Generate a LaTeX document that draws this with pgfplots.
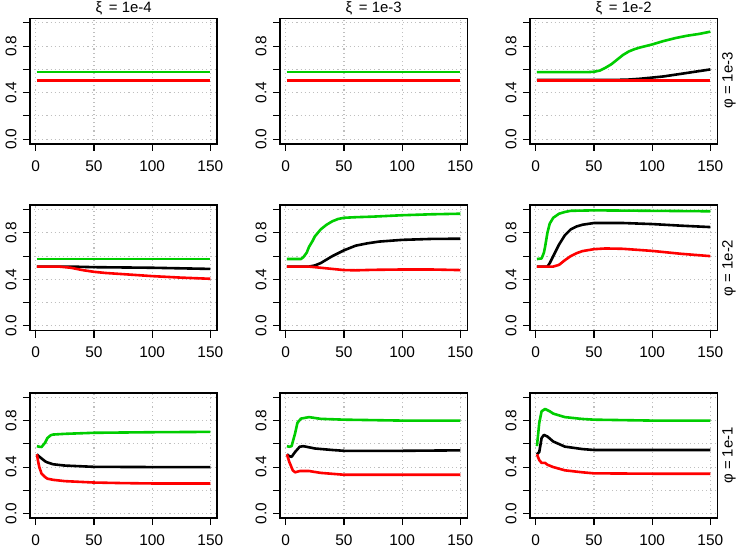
\documentclass[border=0pt]{standalone}
\usepackage{pgfplots}
\pgfplotsset{compat=1.18}
\usepackage{fontspec}
\setmainfont{Liberation Sans}
\definecolor{rgreen}{HTML}{00CD00}
\definecolor{rred}{HTML}{FF0000}
\pgfplotsset{
  panel/.style={
    scale only axis, width=187.3bp, height=125.5bp,
    xmin=-4.96, xmax=155.96, ymin=-0.04, ymax=1.04,
    xtick={0,50,100,150}, ytick={0,0.2,0.4,0.6,0.8,1.0},
    yticklabels={0.0,,0.4,,0.8,},
    tick align=outside, tick pos=left, major tick length=7bp,
    major tick style={line width=1.1bp, black},
    axis line style={line width=1.6bp},
    grid=major, grid style={black!25, line width=1.1bp, dash pattern=on 1.1bp off 3bp},
    ticklabel style={font=\fontsize{15.5}{17}\selectfont},
    /pgf/number format/assume math mode=true,
    yticklabel style={rotate=90, anchor=south},
    xticklabel shift=6bp, yticklabel shift=3bp,
    anchor=north west,
    every axis plot/.append style={line width=2.6bp, no markers, line join=round},
  },
}
\begin{document}
\begin{tikzpicture}[font=\fontsize{15}{17}\selectfont]
\path[use as bounding box] (0,0) rectangle (736bp,-548bp);
% Row 1
\begin{axis}[panel, at={(30bp,-18.3bp)}]
\addplot[black] coordinates {(1,0.51)(150,0.51)};
\addplot[rred] coordinates {(1,0.503)(150,0.503)};
\addplot[rgreen] coordinates {(1,0.577)(150,0.577)};
\end{axis}
\begin{axis}[panel, at={(280bp,-18.3bp)}]
\addplot[black] coordinates {(1,0.51)(150,0.51)};
\addplot[rred] coordinates {(1,0.503)(150,0.503)};
\addplot[rgreen] coordinates {(1,0.577)(150,0.577)};
\end{axis}
\begin{axis}[panel, at={(530bp,-18.3bp)}]
\addplot[black] coordinates {(1,0.51)(70,0.51)(80,0.513)(90,0.52)(100,0.53)(110,0.54)(120,0.555)(130,0.57)(140,0.585)(150,0.60)};
\addplot[rred] coordinates {(1,0.503)(150,0.503)};
\addplot[rgreen] coordinates {(1,0.577)(45,0.577)(50,0.58)(55,0.59)(60,0.615)(65,0.645)(70,0.685)(75,0.725)(80,0.755)(85,0.775)(90,0.79)(100,0.815)(110,0.845)(120,0.87)(130,0.89)(140,0.905)(150,0.925)};
\end{axis}
% Row 2
\begin{axis}[panel, at={(30bp,-205bp)}]
\addplot[black] coordinates {(1,0.51)(30,0.51)(50,0.505)(100,0.50)(150,0.49)};
\addplot[rred] coordinates {(1,0.51)(20,0.51)(30,0.50)(40,0.48)(50,0.465)(60,0.455)(75,0.445)(100,0.428)(125,0.415)(150,0.405)};
\addplot[rgreen] coordinates {(1,0.576)(150,0.576)};
\end{axis}
\begin{axis}[panel, at={(280bp,-205bp)}]
\addplot[black] coordinates {(1,0.51)(20,0.51)(25,0.52)(30,0.54)(35,0.57)(40,0.60)(45,0.625)(50,0.65)(55,0.67)(60,0.69)(70,0.71)(80,0.725)(100,0.74)(125,0.748)(150,0.75)};
\addplot[rred] coordinates {(1,0.51)(20,0.51)(30,0.50)(40,0.49)(50,0.48)(60,0.478)(75,0.482)(100,0.485)(125,0.485)(150,0.48)};
\addplot[rgreen] coordinates {(1,0.575)(13,0.575)(15,0.59)(18,0.63)(20,0.68)(23,0.73)(25,0.77)(30,0.83)(35,0.87)(40,0.90)(45,0.92)(50,0.93)(60,0.935)(75,0.94)(100,0.952)(125,0.96)(150,0.965)};
\end{axis}
\begin{axis}[panel, at={(530bp,-205bp)}]
\addplot[black] coordinates {(1,0.51)(10,0.51)(12,0.54)(15,0.60)(20,0.70)(25,0.78)(30,0.83)(35,0.855)(40,0.87)(50,0.885)(75,0.885)(100,0.876)(125,0.862)(150,0.85)};
\addplot[rred] coordinates {(1,0.51)(15,0.51)(20,0.525)(25,0.565)(30,0.60)(35,0.625)(40,0.643)(50,0.66)(60,0.666)(75,0.663)(100,0.645)(125,0.62)(150,0.60)};
\addplot[rgreen] coordinates {(1,0.575)(5,0.58)(7,0.63)(8,0.68)(10,0.80)(12,0.88)(15,0.93)(20,0.965)(25,0.98)(30,0.99)(50,0.994)(100,0.99)(150,0.986)};
\end{axis}
% Row 3
\begin{axis}[panel, at={(30bp,-392.7bp)}]
\addplot[black] coordinates {(1,0.51)(3,0.49)(5,0.474)(8,0.45)(10,0.44)(15,0.424)(25,0.413)(50,0.402)(100,0.40)(150,0.40)};
\addplot[rred] coordinates {(1,0.51)(2,0.45)(3,0.40)(5,0.343)(8,0.314)(10,0.30)(15,0.29)(25,0.279)(50,0.267)(75,0.262)(100,0.259)(150,0.259)};
\addplot[rgreen] coordinates {(1,0.58)(3,0.575)(5,0.573)(8,0.61)(10,0.65)(13,0.675)(15,0.68)(25,0.686)(50,0.695)(100,0.70)(150,0.703)};
\end{axis}
\begin{axis}[panel, at={(280bp,-392.7bp)}]
\addplot[black] coordinates {(1,0.51)(3,0.494)(5,0.488)(8,0.53)(12,0.575)(15,0.58)(25,0.56)(40,0.547)(50,0.54)(100,0.54)(150,0.544)};
\addplot[rred] coordinates {(1,0.51)(3,0.445)(6,0.372)(8,0.355)(12,0.366)(20,0.366)(30,0.35)(50,0.334)(100,0.334)(150,0.334)};
\addplot[rgreen] coordinates {(1,0.58)(3,0.575)(5,0.58)(8,0.69)(10,0.78)(13,0.817)(20,0.83)(30,0.815)(50,0.808)(100,0.80)(150,0.80)};
\end{axis}
\begin{axis}[panel, at={(530bp,-392.7bp)}]
\addplot[black] coordinates {(1,0.51)(3,0.53)(5,0.65)(7,0.677)(10,0.663)(15,0.62)(25,0.576)(40,0.555)(50,0.547)(100,0.547)(150,0.547)};
\addplot[rred] coordinates {(1,0.51)(3,0.46)(5,0.436)(8,0.436)(10,0.42)(15,0.40)(25,0.372)(40,0.355)(50,0.346)(100,0.343)(150,0.343)};
\addplot[rgreen] coordinates {(1,0.58)(2,0.68)(3,0.78)(5,0.88)(8,0.90)(12,0.88)(15,0.86)(25,0.83)(40,0.814)(50,0.808)(100,0.80)(150,0.80)};
\end{axis}
% Titles and side labels
\node at (123.6bp,-8bp) {ξ\, = 1e-4};
\node at (373.6bp,-8bp) {ξ\, = 1e-3};
\node at (623.6bp,-8bp) {ξ\, = 1e-2};
\node[rotate=90] at (729bp,-80.5bp) {φ = 1e-3};
\node[rotate=90] at (729bp,-268bp) {φ = 1e-2};
\node[rotate=90] at (729bp,-455.5bp) {φ = 1e-1};
\end{tikzpicture}
\end{document}
